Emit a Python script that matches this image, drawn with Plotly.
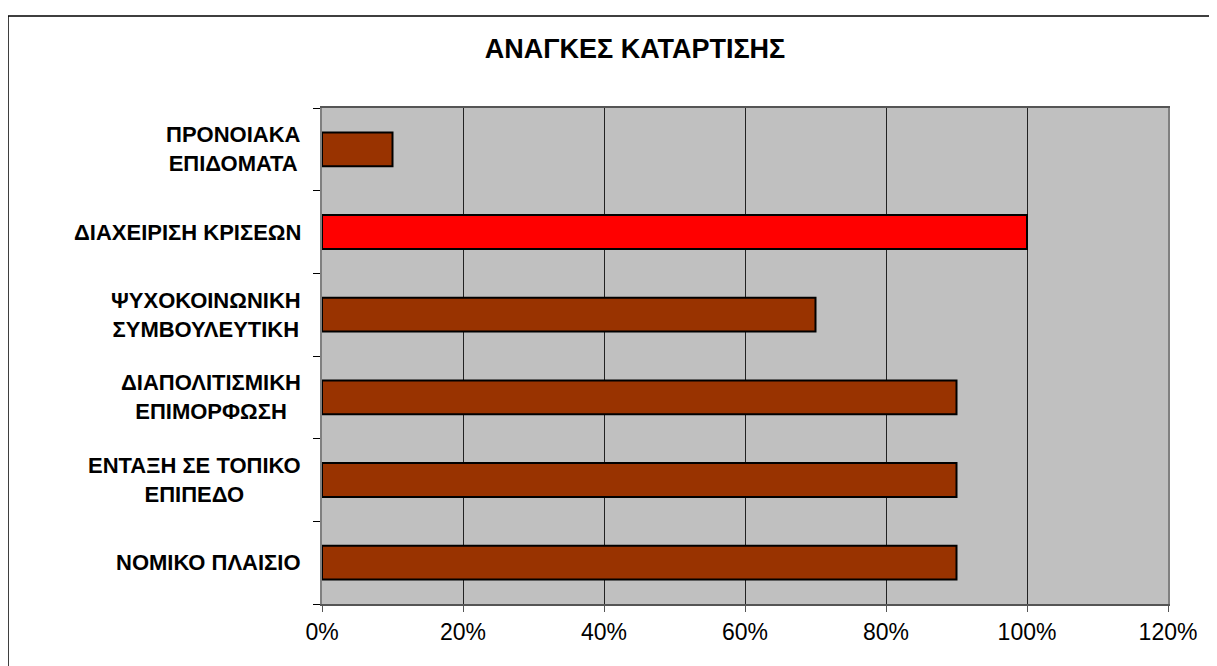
import plotly.graph_objects as go

# Data (bottom to top)
categories = [
    "ΝΟΜΙΚΟ ΠΛΑΙΣΙΟ",
    "ΕΝΤΑΞΗ ΣΕ ΤΟΠΙΚΟ ΕΠΙΠΕΔΟ",
    "ΔΙΑΠΟΛΙΤΙΣΜΙΚΗ ΕΠΙΜΟΡΦΩΣΗ",
    "ΨΥΧΟΚΟΙΝΩΝΙΚΗ ΣΥΜΒΟΥΛΕΥΤΙΚΗ",
    "ΔΙΑΧΕΙΡΙΣΗ ΚΡΙΣΕΩΝ",
    "ΠΡΟΝΟΙΑΚΑ ΕΠΙΔΟΜΑΤΑ",
]
label_text = [
    "ΝΟΜΙΚΟ ΠΛΑΙΣΙΟ",
    "ΕΝΤΑΞΗ ΣΕ ΤΟΠΙΚΟ<br>ΕΠΙΠΕΔΟ",
    "ΔΙΑΠΟΛΙΤΙΣΜΙΚΗ<br>ΕΠΙΜΟΡΦΩΣΗ",
    "ΨΥΧΟΚΟΙΝΩΝΙΚΗ<br>ΣΥΜΒΟΥΛΕΥΤΙΚΗ",
    "ΔΙΑΧΕΙΡΙΣΗ ΚΡΙΣΕΩΝ",
    "ΠΡΟΝΟΙΑΚΑ<br>ΕΠΙΔΟΜΑΤΑ",
]
values = [0.90, 0.90, 0.90, 0.70, 1.00, 0.10]
bar_colors = ["#993300", "#993300", "#993300", "#993300", "#FF0000", "#993300"]
x_ticks = [0, 0.2, 0.4, 0.6, 0.8, 1.0, 1.2]
x_tick_labels = ["0%", "20%", "40%", "60%", "80%", "100%", "120%"]

FONT = "Liberation Sans, Arial, sans-serif"
OFF = 8  # page body margin offset

fig = go.Figure()
fig.add_trace(go.Bar(
    x=values, y=categories, orientation="h",
    marker=dict(color=bar_colors, line=dict(color="black", width=2)),
    width=0.41,
    hoverinfo="skip",
))

for cat, lab in zip(categories, label_text):
    fig.add_annotation(
        x=-0.022, xref="paper", y=cat, yref="y",
        text=lab, showarrow=False, xanchor="right", yanchor="middle",
        align="center",
        font=dict(family=FONT, size=22, color="black", weight="bold"),
    )

# outer chart border
fig.add_shape(type="rect", xref="paper", yref="paper",
              x0=(8 - 322) / 846, x1=(1240 - 322) / 846,
              y0=(604 - 690) / 496, y1=(604 - 16) / 496,
              line=dict(color="black", width=1.5), fillcolor="rgba(0,0,0,0)",
              layer="below")

fig.update_layout(
    width=1217, height=666,
    margin=dict(l=322 - OFF, r=49 + OFF, t=108 - OFF, b=62 + OFF),
    paper_bgcolor="white",
    plot_bgcolor="#C0C0C0",
    showlegend=False,
    title=dict(text="<b>ΑΝΑΓΚΕΣ ΚΑΤΑΡΤΙΣΗΣ</b>", x=(635 - OFF) / 1217, xanchor="center",
               y=1 - (49 - OFF) / 666, yanchor="middle",
               font=dict(family=FONT, size=27, color="black")),
    xaxis=dict(
        range=[0, 1.2], tickvals=x_ticks, ticktext=x_tick_labels,
        showgrid=True, gridcolor="#222222", gridwidth=1,
        zeroline=False,
        showline=True, linecolor="#555555", linewidth=2, mirror=True,
        ticks="outside", ticklen=6, tickcolor="#555555", tickwidth=1,
        tickfont=dict(family=FONT, size=23, color="black"),
    ),
    yaxis=dict(
        type="category", categoryorder="array", categoryarray=categories,
        showticklabels=False,
        showgrid=False, zeroline=False,
        showline=True, linecolor="#808080", linewidth=2, mirror=True,
        ticks="outside", tickson="boundaries", ticklen=7,
        tickcolor="black", tickwidth=1,
    ),
)

fig.write_html("out.html")
